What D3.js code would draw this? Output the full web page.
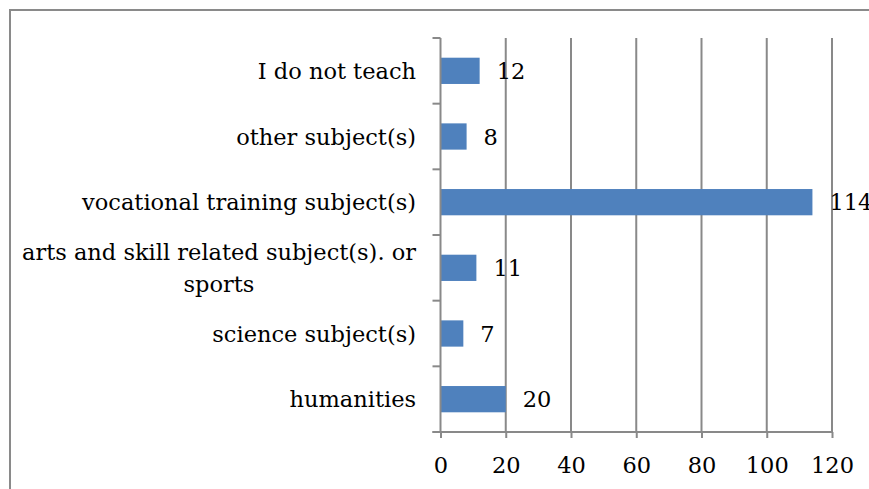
<!DOCTYPE html>
<html>
<head>
  <meta charset="utf-8">
  <title>Subjects taught</title>
  <script src="https://d3js.org/d3.v7.min.js"></script>
  <style>
    body {
      margin: 0;
      background-color: #fff;
      font-family: 'DejaVu Serif', serif;
    }

    .grid line {
      stroke: #898989;
      stroke-width: 2px;
    }

    .axis line, .axis path {
      stroke: #898989;
      stroke-width: 2px;
      fill: none;
    }

    .axis text, .label, .value {
      fill: #000;
      font-family: 'DejaVu Serif', serif;
      font-size: 22.5px;
    }
  </style>
</head>
<body>
  <div id="chart"></div>

  <script>
    // categories from top to bottom, as shown in the chart
    var categories = [
      "I do not teach",
      "other subject(s)",
      "vocational training subject(s)",
      "arts and skill related subject(s). or sports",
      "science subject(s)",
      "humanities"
    ];
    var values = [12, 8, 114, 11, 7, 20];
    var xTicks = [0, 20, 40, 60, 80, 100, 120];

    var width = 869,
      height = 489;

    // plot area
    var plot = { left: 440.5, right: 832, top: 38, bottom: 432 };

    var svg = d3.select("#chart").append("svg")
      .attr("width", width)
      .attr("height", height);

    // chart frame (runs off the right and bottom edges)
    svg.append("rect")
      .attr("x", 10)
      .attr("y", 10)
      .attr("width", width)
      .attr("height", height)
      .attr("fill", "#fff")
      .attr("stroke", "#8a8a8a")
      .attr("stroke-width", 2);

    var x = d3.scaleLinear()
      .domain([0, 120])
      .range([plot.left, plot.right]);

    var y = d3.scaleBand()
      .domain(categories)
      .range([plot.top, plot.bottom])
      .paddingInner(0.6)
      .paddingOuter(0.3);

    // vertical gridlines
    svg.append("g")
      .attr("class", "grid")
      .selectAll("line")
      .data(xTicks.slice(1))
      .enter().append("line")
      .attr("x1", d => x(d))
      .attr("x2", d => x(d))
      .attr("y1", plot.top)
      .attr("y2", plot.bottom);

    // bars
    svg.append("g")
      .selectAll("rect")
      .data(values)
      .enter().append("rect")
      .attr("x", x(0))
      .attr("y", (d, i) => y(categories[i]))
      .attr("width", d => x(d) - x(0))
      .attr("height", y.bandwidth())
      .attr("fill", "#4f81bd");

    // x axis
    var xAxis = svg.append("g")
      .attr("class", "axis")
      .attr("transform", "translate(0," + plot.bottom + ")")
      .call(d3.axisBottom(x)
        .tickValues(xTicks)
        .tickSize(6)
        .tickSizeOuter(0)
        .tickPadding(19));
    xAxis.select(".domain").remove();
    xAxis.append("line")
      .attr("x1", plot.left - 8)
      .attr("x2", plot.right)
      .attr("y1", 0)
      .attr("y2", 0);
    xAxis.selectAll("text")
      .attr("font-family", null)
      .attr("font-size", null);

    // y axis with ticks between categories
    var step = y.step();
    var bounds = d3.range(categories.length + 1).map(i => plot.top + i * step);
    var yAxis = svg.append("g").attr("class", "axis");
    yAxis.append("line")
      .attr("x1", plot.left)
      .attr("x2", plot.left)
      .attr("y1", plot.top)
      .attr("y2", plot.bottom);
    yAxis.selectAll(".tick")
      .data(bounds)
      .enter().append("line")
      .attr("x1", plot.left - 8)
      .attr("x2", plot.left)
      .attr("y1", d => d)
      .attr("y2", d => d);

    // category labels, wrapped when too long
    var labelRight = 416;
    svg.append("g")
      .selectAll("text")
      .data(categories)
      .enter().append("text")
      .attr("class", "label")
      .attr("y", d => y(d) + y.bandwidth() / 2)
      .each(function(d) {
        wrap(d3.select(this), d, 400);
      });

    // wrapped lines are centred on each other, block is right aligned
    function wrap(text, str, maxWidth) {
      var words = str.split(" ");
      var lines = [];
      var line = [];
      var probe = text.append("tspan");
      var widest = 0;
      words.forEach(function(w) {
        line.push(w);
        probe.text(line.join(" "));
        if (probe.node().getComputedTextLength() > maxWidth && line.length > 1) {
          line.pop();
          lines.push(line.join(" "));
          line = [w];
        }
      });
      lines.push(line.join(" "));
      lines.forEach(function(l) {
        probe.text(l);
        widest = Math.max(widest, probe.node().getComputedTextLength());
      });
      probe.remove();
      var lh = 32;
      var yc = +text.attr("y");
      text.attr("text-anchor", "middle");
      lines.forEach(function(l, i) {
        text.append("tspan")
          .attr("x", labelRight - widest / 2)
          .attr("y", yc + (i - (lines.length - 1) / 2) * lh + 8)
          .text(l);
      });
    }

    // value labels
    svg.append("g")
      .selectAll("text")
      .data(values)
      .enter().append("text")
      .attr("class", "value")
      .attr("x", d => x(d) + 17)
      .attr("y", (d, i) => y(categories[i]) + y.bandwidth() / 2 + 8)
      .text(d => d);
  </script>
</body>
</html>
